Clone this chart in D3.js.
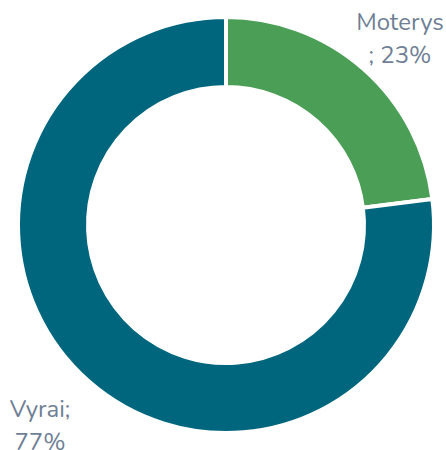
<!DOCTYPE html>
<html><head><meta charset="utf-8">
<script src="https://cdn.jsdelivr.net/npm/d3@7"></script>
<style>html,body{margin:0;padding:0;background:#fff;}svg{display:block;}</style>
</head><body>
<svg id="c" width="446" height="450"></svg>
<script>
const categories = ["Moterys", "Vyrai"];
const values = [23, 77];
const colors = ["#4a9e55", "#00667e"];
const labelLines = [["Moterys", "; 23%"], ["Vyrai;", "77%"]];

const svg = d3.select("#c");
const cx = 226, cy = 225, outerR = 208, innerR = 138;
const g = svg.append("g").attr("transform", `translate(${cx},${cy})`);
const pie = d3.pie().sort(null).value(d => d);
const arcs = pie(values);
const arc = d3.arc().innerRadius(innerR).outerRadius(outerR);
g.selectAll("path").data(arcs).enter().append("path")
  .attr("d", arc)
  .attr("fill", (d, i) => colors[i])
  .attr("stroke", "#fff").attr("stroke-width", 4);

const labelPos = [[400, 30], [40, 417]];
labelLines.forEach((lines, i) => {
  const t = svg.append("text")
    .attr("text-anchor", "middle")
    .attr("font-family", "Nunito, Lato, 'Open Sans', sans-serif")
    .attr("font-size", 24)
    .attr("fill", "#6f7f96");
  lines.forEach((l, j) => {
    t.append("tspan").attr("x", labelPos[i][0]).attr("y", labelPos[i][1] + j * 33).text(l);
  });
});
</script>
</body></html>
